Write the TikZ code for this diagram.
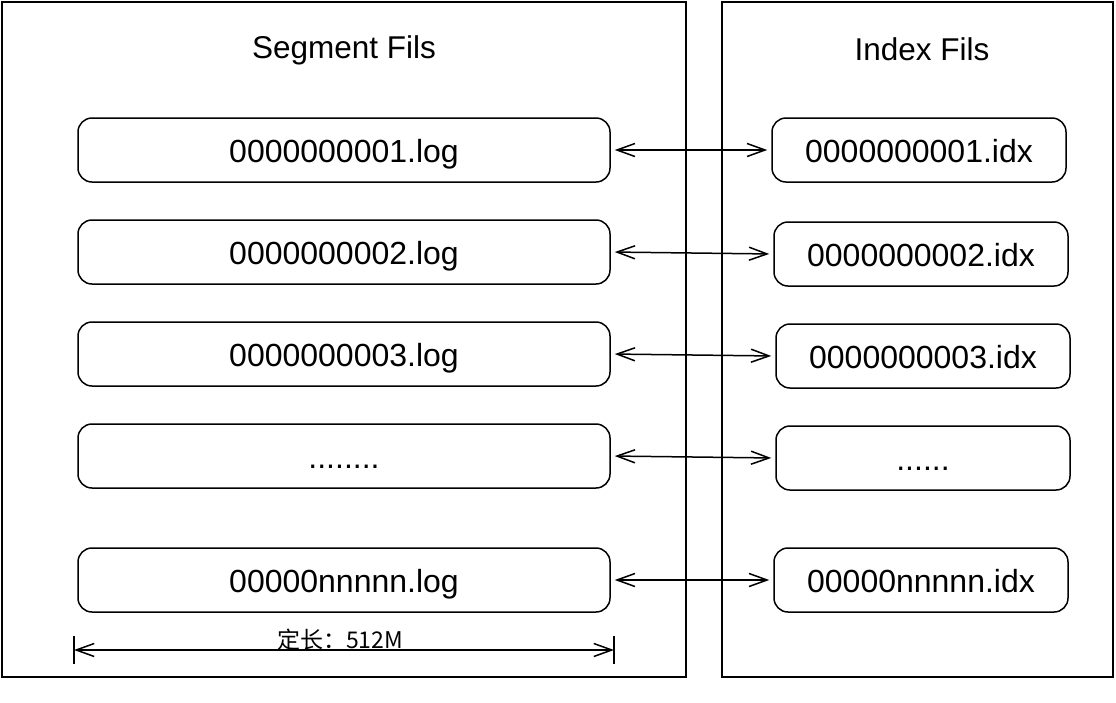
\documentclass[tikz,border=0pt]{standalone}
\usepackage{fontspec}
\setmainfont{Liberation Sans}
\newfontfamily\cjk{Noto Sans CJK SC}
\usetikzlibrary{arrows.meta}

\tikzset{
  filebox/.style={draw, line width=1.5pt, rounded corners=14pt, minimum height=64pt,
    inner sep=0pt, text height=26pt, text depth=2pt, font=\fontsize{32}{36}\selectfont},
  frame/.style={draw, line width=2pt},
  link/.style={<->, line width=1.5pt, shorten <=4pt, shorten >=4pt},
  >={Straight Barb[length=18pt,width=13pt,line width=1.5pt]}
}

\begin{document}
\begin{tikzpicture}[x=1pt, y=-1pt] % pixel like units
    \useasboundingbox (0,0) rectangle (1116,702);

    % Frames
    \draw[frame] (2,2) rectangle (686,677);
    \draw[frame] (722,2) rectangle (1113,677);

    % Titles
    \node[font=\fontsize{31.5}{36}\selectfont] (segtitle) at (344,50) {Segment Fils};
    \node[font=\fontsize{31.5}{36}\selectfont] (idxtitle) at (922,49) {Index Fils};

    % Segment files
    \node[filebox, minimum width=532pt] (log1) at (344,150) {0000000001.log};
    \node[filebox, minimum width=532pt] (log2) at (344,252) {0000000002.log};
    \node[filebox, minimum width=532pt] (log3) at (344,354) {0000000003.log};
    \node[filebox, minimum width=532pt] (log4) at (344,456) {........};
    \node[filebox, minimum width=532pt] (logn) at (344,580) {00000nnnnn.log};

    % Index files
    \node[filebox, minimum width=294pt] (idx1) at (919,150) {0000000001.idx};
    \node[filebox, minimum width=294pt] (idx2) at (921,254) {0000000002.idx};
    \node[filebox, minimum width=294pt] (idx3) at (923,356) {0000000003.idx};
    \node[filebox, minimum width=294pt] (idx4) at (923,458) {......};
    \node[filebox, minimum width=294pt] (idxn) at (921,580) {00000nnnnn.idx};

    % Links
    \draw[link] (log1.east) -- (idx1.west);
    \draw[link] (log2.east) -- (idx2.west);
    \draw[link] (log3.east) -- (idx3.west);
    \draw[link] (log4.east) -- (idx4.west);
    \draw[link] (logn.east) -- (idxn.west);

    % Fixed length
    \coordinate (lenL) at (74,650);
    \coordinate (lenR) at (614,650);
    \draw[line width=1.5pt] (74,636) -- (74,664);
    \draw[line width=1.5pt] (614,636) -- (614,664);
    \draw[<->, line width=1.5pt] (lenL) -- (lenR);
    \node[font=\cjk\fontsize{23}{26}\selectfont, inner sep=0pt, anchor=base] (lentext) at (340,648) {定长：512M};
\end{tikzpicture}
\end{document}
